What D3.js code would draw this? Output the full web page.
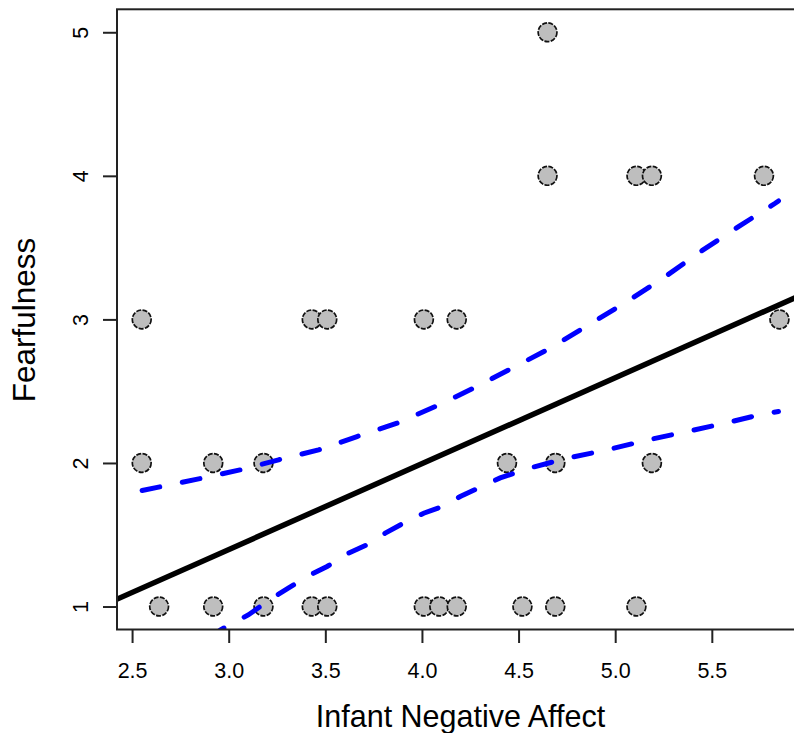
<!DOCTYPE html>
<html>
<head>
<meta charset="utf-8">
<script src="https://cdn.jsdelivr.net/npm/d3@7"></script>
<style>
  body { margin: 0; background: #fff; }
  svg text { font-family: "Liberation Sans", Arial, sans-serif; fill: #000; }
</style>
</head>
<body>
<div id="chart"></div>
<script>
// scatter points, grouped by fearfulness score
const fear1 = [2.64, 2.92, 3.18, 3.43, 3.51, 4.01, 4.09, 4.18, 4.52, 4.69, 5.11];
const fear2 = [2.55, 2.92, 3.18, 4.44, 4.69, 5.19];
const fear3 = [2.55, 3.43, 3.51, 4.01, 4.18, 5.85];
const fear4 = [4.65, 5.11, 5.19, 5.77];
const fear5 = [4.65];

// fitted line, read at the plot edges
const fitX = [2.42, 5.98];
const fitY = [1.05, 3.18];

// confidence band (upper / lower)
const upperX = [2.552, 2.862, 3.060, 3.258, 3.465, 3.664, 3.871, 4.069, 4.267, 4.466, 4.664, 4.871, 5.061, 5.259, 5.449, 5.638, 5.828, 5.845];
const upperY = [1.808, 1.894, 1.952, 2.022, 2.091, 2.184, 2.277, 2.393, 2.521, 2.660, 2.799, 2.969, 3.124, 3.298, 3.479, 3.646, 3.809, 3.825];
const lowerX = [2.552, 2.862, 2.958, 3.017, 3.103, 3.224, 3.302, 3.422, 3.509, 3.612, 3.707, 3.810, 3.905, 4.009, 4.104, 4.198, 4.405, 4.561, 4.750, 4.957, 5.172, 5.371, 5.569, 5.767, 5.845];
const lowerY = [0.450, 0.740, 0.838, 0.880, 0.943, 1.058, 1.123, 1.220, 1.279, 1.367, 1.425, 1.511, 1.581, 1.650, 1.696, 1.766, 1.896, 1.966, 2.033, 2.091, 2.161, 2.219, 2.277, 2.342, 2.358];

const xTicks = [2.5, 3.0, 3.5, 4.0, 4.5, 5.0, 5.5];
const yTicks = [1, 2, 3, 4, 5];

(function(){
  let W = 794, H = 733,
      plot = {left: 117, right: 804, top: 9.3, bottom: 629.5};

  let svg = d3.select('#chart').append('svg')
    .attr('width', W)
    .attr('height', H);

  let x = d3.scaleLinear().domain([2.422, 5.977]).range([plot.left, plot.right]);
  let y = d3.scaleLinear().domain([0.84, 5.16]).range([plot.bottom, plot.top]);

  svg.append('clipPath').attr('id', 'plot-clip')
    .append('rect')
      .attr('x', plot.left).attr('y', plot.top)
      .attr('width', plot.right - plot.left)
      .attr('height', plot.bottom - plot.top);

  let points = [];
  [fear1, fear2, fear3, fear4, fear5].forEach((xs, i) => {
    xs.forEach(v => points.push({x: v, y: i + 1}));
  });

  let body = svg.append('g').attr('clip-path', 'url(#plot-clip)');

  body.append('g').attr('class', 'points')
    .selectAll('circle')
    .data(points)
    .enter().append('circle')
      .attr('cx', d => x(d.x))
      .attr('cy', d => y(d.y))
      .attr('r', 9.4)
      .attr('fill', '#bebebe')
      .attr('stroke', '#111')
      .attr('stroke-width', 1.7)
      .attr('stroke-dasharray', '5,1.4');

  let line = d3.line().x(d => x(d[0])).y(d => y(d[1]));

  body.append('path')
    .attr('d', line(fitX.map((v, i) => [v, fitY[i]])))
    .attr('fill', 'none')
    .attr('stroke', '#000')
    .attr('stroke-width', 5.5);

  [[upperX, upperY], [lowerX, lowerY]].forEach(b => {
    body.append('path')
      .attr('d', line(b[0].map((v, i) => [v, b[1][i]])))
      .attr('fill', 'none')
      .attr('stroke', '#0000ff')
      .attr('stroke-width', 5)
      .attr('stroke-linecap', 'round')
      .attr('stroke-dasharray', '18,23');
  });

  // frame
  svg.append('rect')
    .attr('x', plot.left).attr('y', plot.top)
    .attr('width', plot.right - plot.left)
    .attr('height', plot.bottom - plot.top)
    .attr('fill', 'none')
    .attr('stroke', '#222')
    .attr('stroke-width', 2);

  let xAxis = svg.append('g')
    .attr('transform', 'translate(0,' + plot.bottom + ')')
    .call(d3.axisBottom(x)
      .tickValues(xTicks)
      .tickSize(13.5)
      .tickPadding(20)
      .tickFormat(d3.format('.1f'))
    );
  xAxis.select('.domain').remove();
  xAxis.selectAll('line').attr('stroke', '#222').attr('stroke-width', 2);
  xAxis.selectAll('text').attr('font-size', 21.5).attr('font-family', null).attr('fill', '#000');

  let yAxis = svg.append('g')
    .attr('transform', 'translate(' + plot.left + ',0)')
    .call(d3.axisLeft(y)
      .tickValues(yTicks)
      .tickSize(14)
      .tickFormat(d3.format('d'))
    );
  yAxis.select('.domain').remove();
  yAxis.selectAll('line').attr('stroke', '#222').attr('stroke-width', 2);
  yAxis.selectAll('text')
    .attr('font-size', 21.5)
    .attr('font-family', null)
    .attr('fill', '#000')
    .attr('text-anchor', 'middle')
    .attr('x', null).attr('dy', null)
    .attr('transform', 'translate(-29,0) rotate(-90)');

  svg.append('text')
    .attr('x', (plot.left + plot.right) / 2)
    .attr('y', 727)
    .attr('text-anchor', 'middle')
    .attr('font-size', 30.5)
    .text('Infant Negative Affect');

  svg.append('text')
    .attr('transform', 'translate(35,' + 320 + ') rotate(-90)')
    .attr('text-anchor', 'middle')
    .attr('font-size', 31.5)
    .text('Fearfulness');
})();
</script>
</body>
</html>
